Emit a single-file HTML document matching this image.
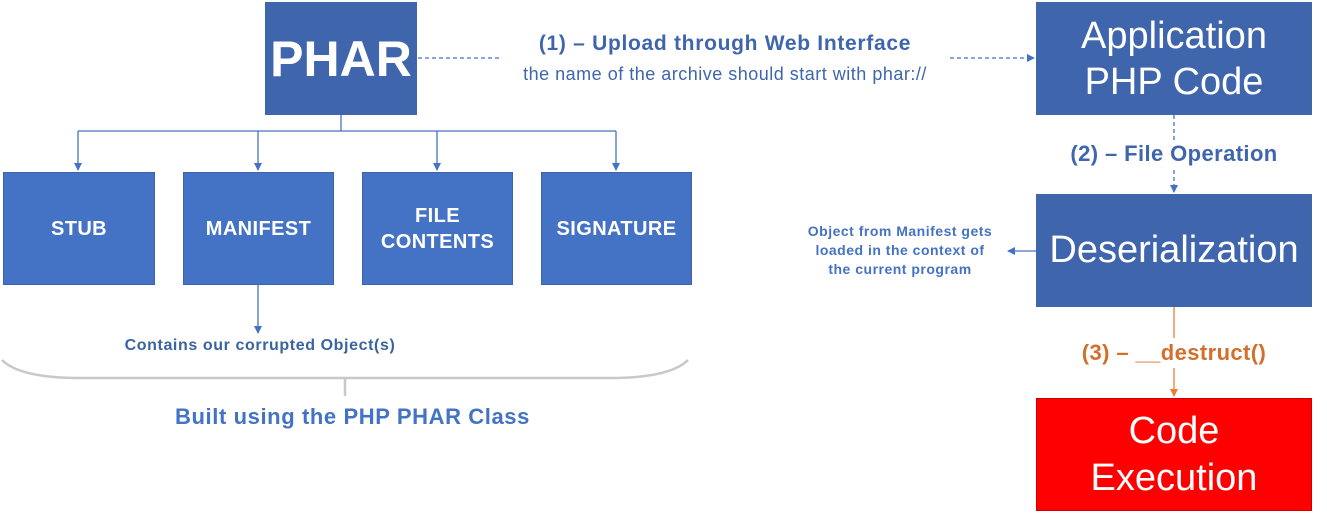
<!DOCTYPE html>
<html><head><style>
body{margin:0;width:1327px;height:521px;background:#fff;position:relative;overflow:hidden;font-family:"Liberation Sans",Arial,sans-serif}
.b{position:absolute;color:#fff;display:flex;align-items:center;justify-content:center;text-align:center;box-sizing:border-box}
.s{background:#4472c4;font-weight:bold;font-size:20px;letter-spacing:0.4px;border:1px solid #3d63ad;line-height:26px}
.d{background:#3f65ad}
.t{position:absolute;text-align:center;font-weight:bold;white-space:nowrap}
</style></head><body>
<svg width="1327" height="521" style="position:absolute;left:0;top:0">
<defs>
<marker id="a" markerWidth="8" markerHeight="8" refX="7" refY="4" orient="auto" markerUnits="userSpaceOnUse"><path d="M0,0L8,4L0,8z" fill="#4472c4"/></marker>
<marker id="o" markerWidth="8" markerHeight="8" refX="7" refY="4" orient="auto" markerUnits="userSpaceOnUse"><path d="M0,0L8,4L0,8z" fill="#ed7d31"/></marker>
</defs>
<g stroke="#4472c4" stroke-width="1.3" fill="none">
<path d="M341,115V131M78,131H616"/>
<path d="M78,131V170" marker-end="url(#a)"/>
<path d="M258,131V170" marker-end="url(#a)"/>
<path d="M437,131V170" marker-end="url(#a)"/>
<path d="M616,131V170" marker-end="url(#a)"/>
<path d="M258,285V333" marker-end="url(#a)"/>
<path d="M418,58H500" stroke-dasharray="4,3"/>
<path d="M950,58H1034" stroke-dasharray="4,3" marker-end="url(#a)"/>
<path d="M1174,115V140" stroke-dasharray="4,3"/>
<path d="M1174,170V192" stroke-dasharray="4,3" marker-end="url(#a)"/>
<path d="M1036,251H1008" marker-end="url(#a)"/>
</g>
<g stroke="#ed7d31" stroke-width="1.3" fill="none">
<path d="M1174,307V338"/><path d="M1174,368V396" marker-end="url(#o)"/>
</g>
<path d="M2,360Q20,378 80,378H610Q670,378 688,360M345,378V396" stroke="#c8c8c8" stroke-width="2.5" fill="none"/>
</svg>
<div class="b d" style="left:265px;top:2px;width:152px;height:113px;font-size:50px;font-weight:bold">PHAR</div>
<div class="b s" style="left:3px;top:172px;width:152px;height:113px">STUB</div>
<div class="b s" style="left:183px;top:172px;width:151px;height:113px">MANIFEST</div>
<div class="b s" style="left:362px;top:172px;width:151px;height:113px">FILE<br>CONTENTS</div>
<div class="b s" style="left:541px;top:172px;width:151px;height:113px">SIGNATURE</div>
<div class="b d" style="left:1036px;top:2px;width:276px;height:113px;font-size:38px;line-height:46px">Application<br>PHP Code</div>
<div class="b d" style="left:1036px;top:194px;width:276px;height:113px;font-size:38px">Deserialization</div>
<div class="b" style="left:1036px;top:398px;width:276px;height:113px;font-size:38px;line-height:47px;background:#f00;border:1px solid #c00">Code<br>Execution</div>
<div class="t" style="left:475px;top:32px;width:500px;font-size:21px;letter-spacing:0.7px;color:#3f65ad">(1) – Upload through Web Interface</div>
<div class="t" style="left:455px;top:64px;width:540px;font-size:18px;letter-spacing:0.5px;color:#3f65ad;font-weight:normal">the name of the archive should start with phar://</div>
<div class="t" style="left:1024px;top:141px;width:300px;font-size:22px;letter-spacing:0.4px;color:#3f65ad;background:#fff">(2) – File Operation</div>
<div class="t" style="left:1024px;top:340px;width:300px;font-size:22px;letter-spacing:0.4px;color:#d36f2a;background:#fff">(3) – __destruct()</div>
<div class="t" style="left:780px;top:222px;width:240px;font-size:14px;letter-spacing:0.5px;line-height:19px;color:#4472c4">Object from Manifest gets<br>loaded in the context of<br>the current program</div>
<div class="t" style="left:50px;top:337px;width:420px;font-size:16px;letter-spacing:0.6px;color:#3a64a0">Contains our corrupted Object(s)</div>
<div class="t" style="left:90px;top:404px;width:525px;font-size:22px;letter-spacing:0.6px;color:#4472c4">Built using the PHP PHAR Class</div>
</body></html>
